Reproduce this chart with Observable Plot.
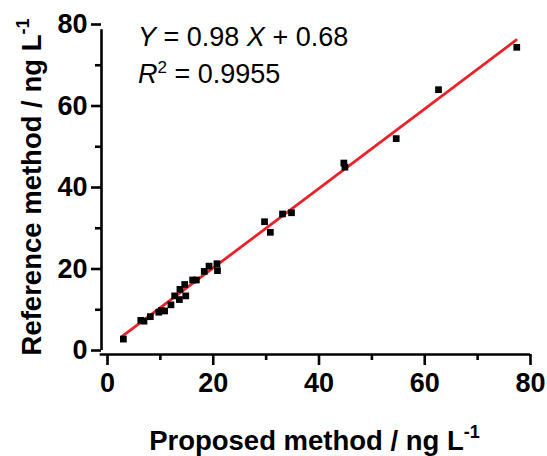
<!DOCTYPE html>
<html>
<head>
<meta charset="utf-8">
<script src="https://cdn.jsdelivr.net/npm/d3@7"></script>
<script src="https://cdn.jsdelivr.net/npm/@observablehq/plot@0.6"></script>
<style>
  html, body { margin: 0; padding: 0; background: #fff; }
  #chart svg { display: block; }
</style>
</head>
<body>
<div id="chart"></div>
<script>
// Proposed method (x) vs reference method (y), ng/L
const proposed = [3.0, 6.3, 6.9, 8.1, 9.7, 10.2, 10.8, 12.0, 12.7, 13.6, 13.7, 14.6, 14.8, 16.1, 16.8, 18.3, 19.2, 20.7, 20.8, 29.7, 30.8, 33.1, 34.8, 44.7, 44.9, 54.6, 62.6, 77.4];
const reference = [2.8, 7.4, 7.2, 8.3, 9.4, 9.8, 9.7, 11.2, 13.4, 12.5, 15.0, 16.2, 13.4, 17.3, 17.3, 19.4, 20.7, 21.3, 19.6, 31.6, 29.0, 33.5, 33.8, 46.0, 45.0, 52.0, 64.0, 74.4];
// Fitted line endpoints
const fitX = [2.7, 77.3];
const fitY = [3.4, 76.2];
const majorTicks = [0, 20, 40, 60, 80];
const minorTicks = [10, 30, 50, 70];
const eqText = "Y = 0.98 X + 0.68";
const r2Text = "0.9955";
const xTitle = "Proposed method / ng L";
const yTitle = "Reference method / ng L";

const points = proposed.map((x, i) => ({x, y: reference[i]}));
const fit = fitX.map((x, i) => ({x, y: fitY[i]}));

const W = 547, H = 456;
const mL = 107, mR = 17, mT = 24, mB = 106;
const FONT = "Arial, 'Liberation Sans', Helvetica, sans-serif";
const AX = 2.6;

const plot = Plot.plot({
  width: W, height: H,
  marginLeft: mL, marginRight: mR, marginTop: mT, marginBottom: mB,
  style: {fontFamily: FONT, background: "#fff", overflow: "visible"},
  x: {domain: [0, 80]},
  y: {domain: [0, 80]},
  marks: [
    // axis lines (offset, Prism style)
    Plot.ruleX([0], {y1: 0, y2: 80, dx: -6, insetBottom: -4 - AX / 2, stroke: "#000", strokeWidth: AX}),
    Plot.ruleY([0], {x1: 0, x2: 80, dy: 4, insetLeft: -6 - AX / 2, stroke: "#000", strokeWidth: AX}),
    // y axis
    Plot.axisY({ticks: majorTicks, tickSize: 10, tickPadding: 4, dx: -6, strokeWidth: AX, stroke: "#000",
      fontSize: 27, fontWeight: "bold", fill: "#000", label: null, tickFormat: d => d}),
    Plot.axisY({ticks: minorTicks, tickSize: 6, dx: -6, strokeWidth: AX, stroke: "#000", text: null, label: null}),
    // x axis
    Plot.axisX({ticks: majorTicks, tickSize: 11, tickPadding: 7, dy: 4, strokeWidth: AX, stroke: "#000",
      fontSize: 27, fontWeight: "bold", fill: "#000", label: null, tickFormat: d => d}),
    Plot.axisX({ticks: minorTicks, tickSize: 6, dy: 4, strokeWidth: AX, stroke: "#000", text: null, label: null}),
    // fit line
    Plot.line(fit, {x: "x", y: "y", stroke: "#e8232a", strokeWidth: 2.8}),
    // data points
    Plot.dot(points, {x: "x", y: "y", symbol: "square", r: 3.8, fill: "#000", stroke: null})
  ]
});

document.getElementById("chart").appendChild(plot);

const svg = d3.select(plot);
const cx = mL + (W - mL - mR) / 2;
const cy = mT + (H - mT - mB) / 2;

// x title
const xt = svg.append("text")
  .attr("x", cx - 4).attr("y", 450)
  .attr("text-anchor", "middle")
  .attr("font-family", FONT).attr("font-size", 27.5).attr("font-weight", "bold").attr("fill", "#000");
xt.append("tspan").text(xTitle);
xt.append("tspan").attr("dy", -12).attr("font-size", 18).text("-1");

// y title
const yt = svg.append("text")
  .attr("transform", `translate(41,${cy}) rotate(-90)`)
  .attr("text-anchor", "middle")
  .attr("font-family", FONT).attr("font-size", 27.5).attr("font-weight", "bold").attr("fill", "#000");
yt.append("tspan").text(yTitle);
yt.append("tspan").attr("dy", -12).attr("font-size", 18).text("-1");

// equation
const parts = eqText.split(" ");
const eq = svg.append("text")
  .attr("x", 138).attr("y", 46)
  .attr("text-anchor", "start")
  .attr("font-family", FONT).attr("font-size", 27).attr("fill", "#000");
parts.forEach((p, i) => {
  const t = eq.append("tspan").text((i ? " " : "") + p);
  if (p === "Y" || p === "X") t.attr("font-style", "italic");
});

const r2 = svg.append("text")
  .attr("x", 138).attr("y", 83)
  .attr("text-anchor", "start")
  .attr("font-family", FONT).attr("font-size", 27).attr("fill", "#000");
r2.append("tspan").attr("font-style", "italic").text("R");
r2.append("tspan").attr("dy", -10).attr("font-size", 17).text("2");
r2.append("tspan").attr("dy", 10).text(" = " + r2Text);
</script>
</body>
</html>
